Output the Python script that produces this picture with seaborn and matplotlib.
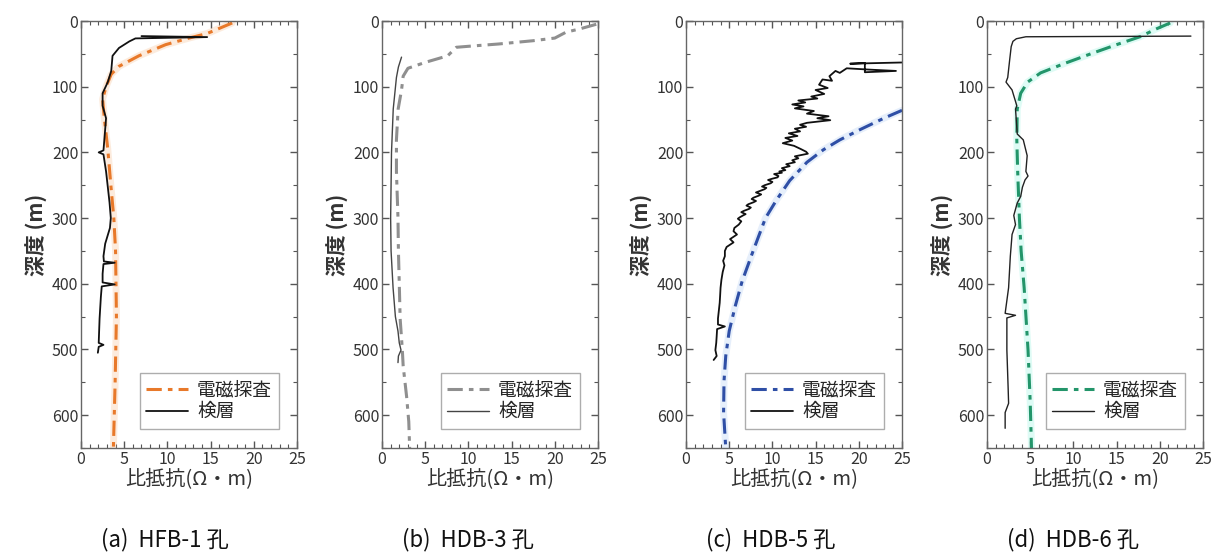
import matplotlib
matplotlib.use("Agg")
import matplotlib.pyplot as plt
import seaborn as sns
from matplotlib.ticker import MultipleLocator

# ---------------- data (depth m, resistivity ohm-m) ----------------
a_em = [(3, 17.5), (19, 14.6), (26, 12.5), (36, 9.8), (53, 6.7), (69, 4.4), (81, 3.5),
        (100, 2.9), (119, 2.5), (148, 2.7), (195, 3.1), (257, 3.5), (300, 3.8),
        (350, 4.0), (450, 4.1), (550, 3.95), (650, 3.75)]
a_log = [(23, 7.0), (24.5, 14.6), (26.5, 6.3), (31, 5.6), (41, 4.4), (53, 3.65), (76, 3.5),
         (93, 3.1), (110, 2.5), (129, 2.5), (148, 2.9), (181, 2.7), (197, 2.6), (200, 2.05),
         (203, 2.6), (229, 2.9), (276, 3.3), (300, 3.45), (315, 3.35), (339, 2.8), (358, 2.6),
         (366, 2.65), (368, 3.9), (370, 2.6), (385, 2.5), (398, 2.5), (401, 3.9), (404, 2.4),
         (420, 2.3), (453, 2.15), (490, 2.05), (493, 2.6), (496, 2.05), (505, 1.95)]

b_em = [(5, 24.8), (12, 22.9), (17, 21.3), (26, 20.0), (30, 17.5), (35, 13.5), (38, 10.5),
        (40, 8.6), (53, 7.6), (63, 5.0), (72, 3.0), (84, 2.45), (105, 2.26), (134, 1.87),
        (181, 1.67), (229, 1.67), (300, 1.85), (350, 1.9), (400, 2.0), (453, 2.1),
        (500, 2.35), (525, 2.45), (572, 2.85), (610, 3.1), (650, 3.2)]
b_log = [(55, 2.26), (70, 1.9), (86, 1.67), (134, 1.3), (200, 1.1), (300, 1.0), (350, 1.05),
         (406, 1.28), (450, 1.55), (472, 1.85), (490, 2.0), (501, 2.2), (510, 1.9), (520, 1.85)]

c_em = [(136, 25.0), (148, 22.9), (165, 20.2), (181, 17.8), (196, 15.9), (215, 14.0),
        (243, 12.0), (272, 10.5), (300, 9.2), (349, 7.8), (396, 6.5), (434, 5.7),
        (472, 5.0), (510, 4.6), (548, 4.4), (596, 4.35), (650, 4.6)]
c_log = [(63, 25.5), (65, 19.0), (64, 20.7), (78, 20.7), (76, 24.3), (74, 21.2), (72, 18.6),
         (79, 17.8), (76, 17.3), (84, 16.6), (91, 16.9), (89, 15.8), (97, 15.4), (102, 16.4),
         (105, 15.0), (111, 16.0), (115, 14.5), (118, 15.2), (121, 13.0), (124, 13.8),
         (127, 12.3), (130, 13.6), (133, 12.6), (137, 14.8), (141, 14.0), (145, 16.5),
         (148, 15.2), (151, 16.7), (155, 14.0), (158, 13.2), (161, 13.9), (164, 12.6),
         (168, 13.2), (171, 11.9), (175, 12.9), (178, 11.5), (182, 12.3), (186, 11.2),
         (190, 12.5), (195, 13.3), (199, 13.9), (202, 14.1), (206, 12.6), (209, 13.0),
         (212, 12.3), (215, 12.6), (218, 11.6), (221, 12.0), (224, 11.1), (227, 11.5),
         (229, 10.8), (231, 11.1), (233, 10.2), (236, 10.7), (238, 10.6), (240, 10.0),
         (242, 9.5), (245, 10.0), (247, 9.8), (250, 9.1), (252, 8.8), (254, 9.3), (256, 9.1),
         (259, 8.5), (261, 8.1), (264, 8.7), (266, 8.4), (269, 7.8), (271, 7.6), (274, 8.1),
         (276, 7.8), (279, 7.2), (281, 7.0), (284, 7.5), (286, 7.3), (289, 6.7), (291, 6.4),
         (294, 6.9), (296, 6.6), (299, 6.2), (301, 6.0), (305, 6.4), (310, 6.1), (315, 5.6),
         (320, 5.5), (325, 5.9), (332, 5.1), (337, 5.5), (344, 4.7), (350, 4.5), (358, 4.5),
         (365, 4.3), (372, 4.45), (382, 4.25), (394, 4.1), (406, 4.0), (418, 3.95), (429, 3.9),
         (441, 3.8), (453, 3.7), (462, 3.7), (465, 4.5), (469, 3.6), (480, 3.55), (490, 3.5),
         (501, 3.4), (510, 3.55), (516, 3.2)]

d_em = [(3, 21.2), (12, 19.6), (24, 17.7), (36, 15.0), (50, 12.0), (65, 8.9), (79, 6.2),
        (93, 4.7), (110, 3.9), (134, 3.5), (181, 3.45), (229, 3.55), (300, 3.75),
        (350, 3.95), (406, 4.3), (501, 4.75), (580, 5.0), (650, 5.15)]
d_log = [(23, 23.6), (24, 4.5), (27, 3.4), (31, 3.0), (39, 2.8), (62, 2.6), (86, 2.4),
         (93, 2.2), (105, 2.9), (129, 3.45), (134, 3.3), (172, 3.5), (181, 4.2), (205, 4.65),
         (229, 4.5), (236, 4.75), (242, 4.4), (253, 4.1), (267, 3.9), (277, 3.5), (296, 3.1),
         (310, 3.3), (325, 2.9), (358, 2.7), (406, 2.5), (445, 2.1), (448, 3.3), (452, 2.3),
         (501, 2.3), (560, 2.45), (582, 2.5), (596, 2.1), (620, 2.1)]

captions = ["(a)  HFB-1 孔", "(b)  HDB-3 孔", "(c)  HDB-5 孔", "(d)  HDB-6 孔"]
em_colors = ["#e8792a", "#8f8f8f", "#2f4fa6", "#23956a"]
halo_colors = ["#f6b27a", None, "#9fc0f0", "#7ff0d8"]
log_colors = ["#111111", "#444444", "#111111", "#222222"]
log_widths = [1.3, 1.0, 1.3, 1.0]
legend_labels = ["電磁探査", "検層"]
xlabel = "比抵抗(Ω・m)"
ylabel = "深度 (m)"

# ---------------- style ----------------
sns.set_theme(style="ticks")
plt.rcParams["font.family"] = ["Noto Sans CJK JP", "DejaVu Sans"]
plt.rcParams["axes.unicode_minus"] = False

W, H = 1213, 553
fig = plt.figure(figsize=(W / 100, H / 100), dpi=100)
lefts = [81, 382, 686, 987]
ax_top, ax_bot, ax_w = 21, 448, 216

panels = [(a_em, a_log), (b_em, b_log), (c_em, c_log), (d_em, d_log)]

for i, (em, lg) in enumerate(panels):
    ax = fig.add_axes([lefts[i] / W, 1 - ax_bot / H, ax_w / W, (ax_bot - ax_top) / H])
    em_d = [p[0] for p in em]
    em_v = [p[1] for p in em]
    lg_d = [p[0] for p in lg]
    lg_v = [p[1] for p in lg]

    if halo_colors[i]:
        sns.lineplot(x=em_v, y=em_d, sort=False, estimator=None, ax=ax,
                     color=halo_colors[i], lw=5, alpha=0.25, legend=False)
    sns.lineplot(x=em_v, y=em_d, sort=False, estimator=None, ax=ax,
                 color=em_colors[i], lw=2.2, linestyle=(0, (5, 2, 1.5, 2)),
                 label=legend_labels[0])
    sns.lineplot(x=lg_v, y=lg_d, sort=False, estimator=None, ax=ax,
                 color=log_colors[i], lw=log_widths[i], label=legend_labels[1])

    ax.set_xlim(0, 25)
    ax.set_ylim(650, 0)
    ax.xaxis.set_major_locator(MultipleLocator(5))
    ax.xaxis.set_minor_locator(MultipleLocator(1))
    ax.yaxis.set_major_locator(MultipleLocator(100))
    ax.yaxis.set_minor_locator(MultipleLocator(50))
    ax.tick_params(which="both", direction="in", top=True, right=True,
                   colors="#555555", labelcolor="#333333")
    ax.tick_params(which="major", length=5, width=1, labelsize=11.5, pad=2)
    ax.tick_params(which="minor", length=3, width=0.8)
    for s in ax.spines.values():
        s.set_color("#666666")
        s.set_linewidth(1.0)

    ax.set_xlabel(xlabel, fontsize=14.5, color="#333333", labelpad=0)
    ax.set_ylabel(ylabel, fontsize=15, fontweight="bold", color="#333333", labelpad=3)

    leg = ax.legend(loc="lower right", bbox_to_anchor=(0.915, 0.045), borderaxespad=0,
                    fontsize=13.5, frameon=True, fancybox=False, edgecolor="#999999",
                    handlelength=2.2, labelspacing=0.05, borderpad=0.35,
                    handletextpad=0.5)
    leg.get_frame().set_linewidth(1.0)

    fig.text((lefts[i] + 20) / W, 1 - 540 / H, captions[i], fontsize=16,
             ha="left", va="center", color="#111111")

fig.savefig("out.png", dpi=100)
